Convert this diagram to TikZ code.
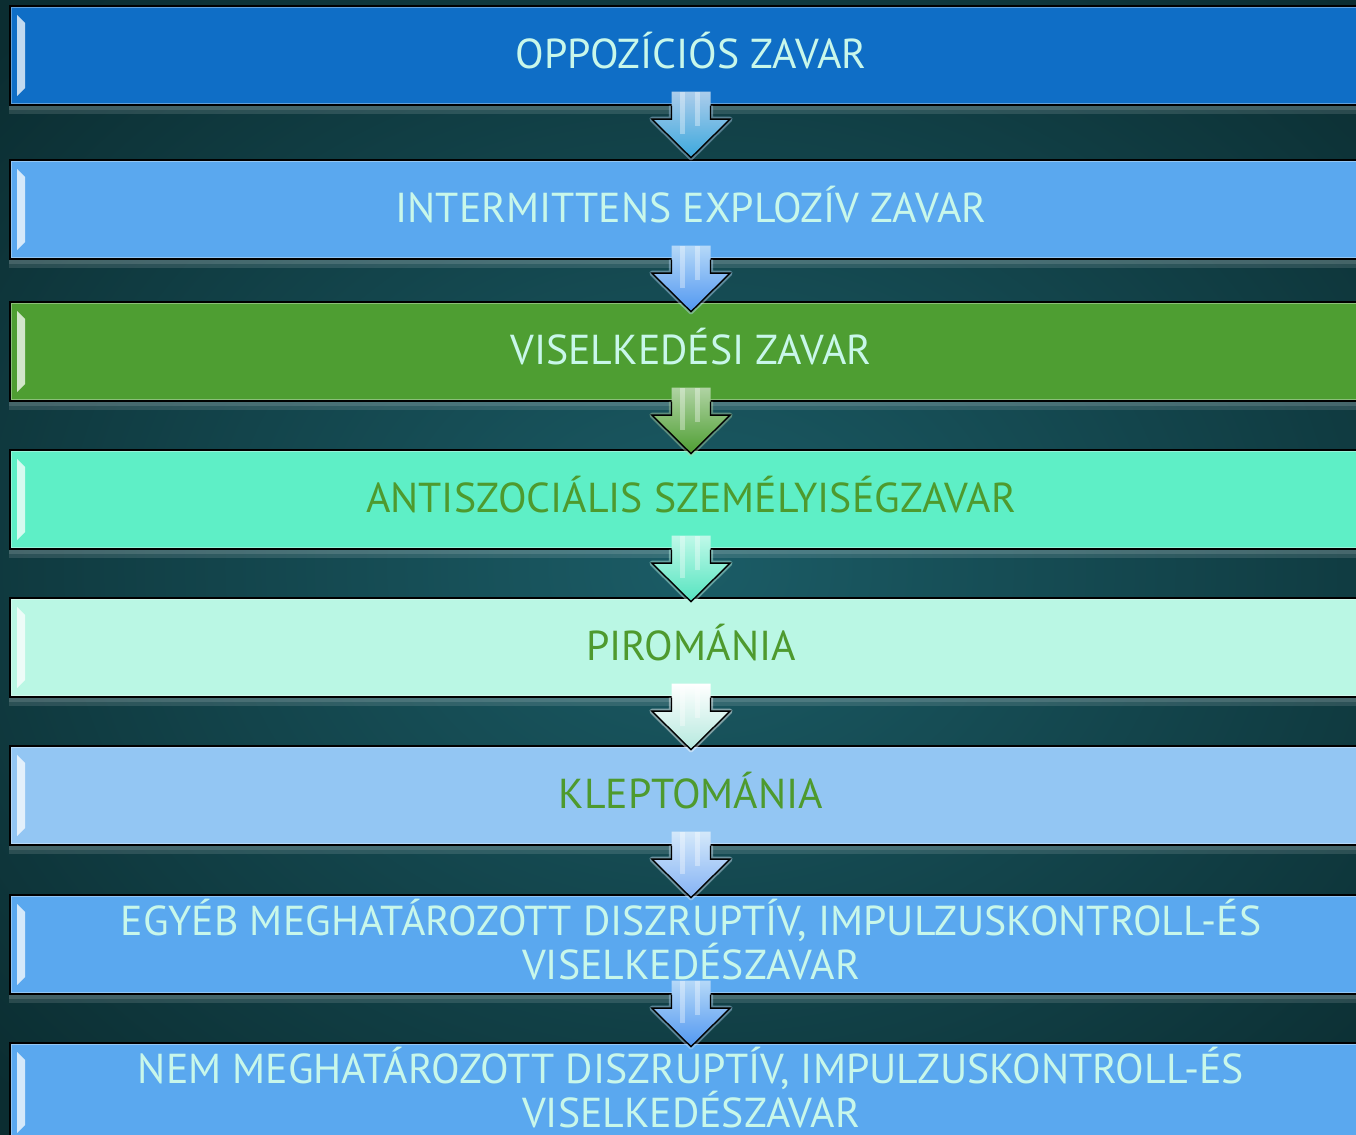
\documentclass[tikz,border=0pt]{standalone}
\usepackage{fontspec}
\setmainfont{PT Sans}
\usetikzlibrary{calc}

\definecolor{bgin}{HTML}{1B5C66}
\definecolor{bgout}{HTML}{0B2D31}
\definecolor{barA}{HTML}{0F6EC6}
\definecolor{barB}{HTML}{5AA8EF}
\definecolor{barC}{HTML}{4E9E32}
\definecolor{barD}{HTML}{5EEFC6}
\definecolor{barE}{HTML}{BAF7E4}
\definecolor{barF}{HTML}{93C6F3}
\definecolor{txtlight}{HTML}{C8F7EA}
\definecolor{txtgreen}{HTML}{4E9A2E}

\tikzset{
  bar/.style={draw=black, line width=0.8pt, minimum width=27.24cm, minimum height=1.98cm,
    inner sep=0pt, align=center, font=\fontsize{23.8}{25.5}\selectfont,
    execute at end node={\rule[-6pt]{0pt}{6pt}},
    path picture={
      \draw[white, opacity=.35, line width=2.5pt] (path picture bounding box.north west)
        rectangle (path picture bounding box.south east);
      \fill[white, opacity=.75] ([shift={(7,9)}]path picture bounding box.north west) -- ++(8,8)
        -- ([shift={(15,-17)}]path picture bounding box.south west) -- ++(-8,8) -- cycle;
    }},
  barglow/.style={white, opacity=.12},
  arrowline/.style={black, line width=0.8pt, line join=miter}
}

% block arrow under a bar
\newcommand{\flowarrow}[3]{%
  \begin{scope}[shift={(#1.south)}]
    \draw[#3, opacity=.45, line width=3pt, line join=round]
      (-19.5,0) -- (-19.5,13.5) -- (-39,13.5) -- (0,52) -- (39,13.5) -- (19.5,13.5) -- (19.5,0);
    \shade[top color=#3, bottom color=#2]
      (-19.5,-14) -- (-19.5,13.5) -- (-39,13.5) -- (0,52) -- (39,13.5) -- (19.5,13.5) -- (19.5,-14) -- cycle;
    \fill[white, opacity=.35] (-11,-14) rectangle (-6,28);
    \fill[white, opacity=.35] (4,-14) rectangle (9,20);
    \draw[arrowline]
      (-19.5,0) -- (-19.5,13.5) -- (-39,13.5) -- (0,52) -- (39,13.5) -- (19.5,13.5) -- (19.5,0);
  \end{scope}}

\begin{document}
\begin{tikzpicture}[x=0.02cm, y=-0.02cm]
  \useasboundingbox (0,0) rectangle (1356,1135);
  \clip (0,0) rectangle (1356,1135);
  % background
  \shade[inner color=bgin, outer color=bgout] (-250,-200) rectangle (1650,1335);

  % bars
  \node[bar, fill=barA, text=txtlight] (opp) at (691,55.5) {OPPOZÍCIÓS ZAVAR};
  \node[bar, fill=barB, text=txtlight] (iez) at (691,209.5) {INTERMITTENS EXPLOZÍV ZAVAR};
  \node[bar, fill=barC, text=txtlight] (vis) at (691,351.5) {VISELKEDÉSI ZAVAR};
  \node[bar, fill=barD, text=txtgreen] (asz) at (691,499.5) {ANTISZOCIÁLIS SZEMÉLYISÉGZAVAR};
  \node[bar, fill=barE, text=txtgreen] (pir) at (691,647.5) {PIROMÁNIA};
  \node[bar, fill=barF, text=txtgreen] (kle) at (691,795.5) {KLEPTOMÁNIA};
  \node[bar, fill=barB, text=txtlight] (egy) at (691,944.5)
    {EGYÉB MEGHATÁROZOTT DISZRUPTÍV, IMPULZUSKONTROLL-ÉS\\ VISELKEDÉSZAVAR};
  \node[bar, fill=barB, text=txtlight] (nem) at (691,1092.5)
    {NEM MEGHATÁROZOTT DISZRUPTÍV, IMPULZUSKONTROLL-ÉS\\ VISELKEDÉSZAVAR};

  % glow under the bars
  \foreach \b in {opp,iez,vis,asz,pir,kle,egy} {
    \fill[barglow] (\b.south west) rectangle ([shift={(0,8)}]\b.south east);
    \fill[barglow] (\b.south west) rectangle ([shift={(0,4)}]\b.south east);
  }

  % arrows
  \flowarrow{opp}{barA!75!cyan!80!white}{barA!35!white}
  \flowarrow{iez}{barB!90!blue}{barB!45!white}
  \flowarrow{vis}{barC}{barC!45!white}
  \flowarrow{asz}{barD!90!teal}{barD!40!white}
  \flowarrow{pir}{barE!80!teal!70!white}{white}
  \flowarrow{kle}{barF!90!blue}{barF!40!white}
  \flowarrow{egy}{barB!90!blue}{barB!45!white}
\end{tikzpicture}
\end{document}
